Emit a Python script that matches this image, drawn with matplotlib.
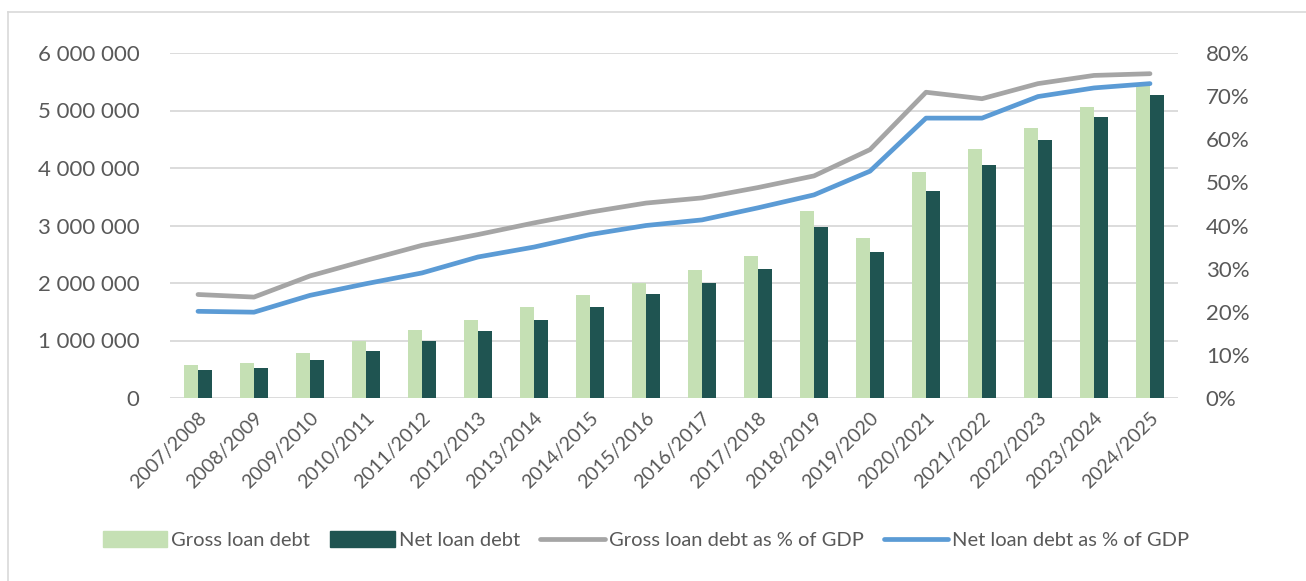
import matplotlib
matplotlib.use("Agg")
import matplotlib.pyplot as plt
from matplotlib.lines import Line2D
from matplotlib.ticker import FuncFormatter, MultipleLocator
import numpy as np

years = ["2007/2008", "2008/2009", "2009/2010", "2010/2011", "2011/2012", "2012/2013",
         "2013/2014", "2014/2015", "2015/2016", "2016/2017", "2017/2018", "2018/2019",
         "2019/2020", "2020/2021", "2021/2022", "2022/2023", "2023/2024", "2024/2025"]

gross_debt = [570000, 615000, 790000, 990000, 1190000, 1360000, 1590000, 1785000, 2005000,
              2232000, 2470000, 3246000, 2783000, 3936000, 4336000, 4690000, 5067000, 5450000]
net_debt = [481000, 528000, 655000, 812000, 991000, 1165000, 1362000, 1588000, 1809000,
            2006000, 2249000, 2980000, 2539000, 3600000, 4046000, 4493000, 4887000, 5264000]

gross_pct = [24.0, 23.4, 28.3, 31.9, 35.4, 37.9, 40.6, 43.1, 45.2,
             46.4, 48.8, 51.5, 57.6, 70.9, 69.4, 72.9, 74.8, 75.2]
net_pct = [20.1, 19.9, 23.8, 26.5, 29.0, 32.7, 35.0, 37.9, 40.0,
           41.3, 44.1, 47.1, 52.6, 64.9, 64.9, 69.9, 71.9, 72.9]

C_GROSS_BAR = "#C5E0B4"
C_NET_BAR = "#1F5451"
C_GROSS_LINE = "#A5A5A5"
C_NET_LINE = "#5B9BD5"
C_TEXT = "#595959"
C_GRID = "#D9D9D9"

plt.rcParams["font.family"] = ["Lato", "DejaVu Sans"]

W, H = 1306, 581
fig = plt.figure(figsize=(W / 100, H / 100), dpi=100)
ax = fig.add_axes([170 / W, 1 - 398 / H, 1008 / W, 345 / H])
ax2 = ax.twinx()

x = np.arange(len(years))
bw = 0.25
ax.bar(x - bw / 2, gross_debt, width=bw, color=C_GROSS_BAR, zorder=2)
ax.bar(x + bw / 2, net_debt, width=bw, color=C_NET_BAR, zorder=2)

ax2.plot(x, gross_pct, color=C_GROSS_LINE, lw=3.4, solid_capstyle="round", solid_joinstyle="round")
ax2.plot(x, net_pct, color=C_NET_LINE, lw=3.4, solid_capstyle="round", solid_joinstyle="round")

ax.set_xlim(-0.5, len(years) - 0.5)
ax.set_ylim(0, 6000000)
ax2.set_ylim(0, 80)
ax.yaxis.set_major_locator(MultipleLocator(1000000))
ax2.yaxis.set_major_locator(MultipleLocator(10))
ax.yaxis.set_major_formatter(FuncFormatter(lambda v, p: f"{int(v):,}".replace(",", " ")))
ax2.yaxis.set_major_formatter(FuncFormatter(lambda v, p: f"{int(v)}%"))

ax.grid(axis="y", color=C_GRID, lw=1.3, zorder=0)
ax.set_axisbelow(True)
for a in (ax, ax2):
    for s in a.spines.values():
        s.set_visible(False)
    a.tick_params(length=0, colors=C_TEXT, labelsize=16)
ax.tick_params(axis="y", pad=22)
ax2.tick_params(axis="y", pad=20)

ax.set_xticks(x)
ax.set_xticklabels(years, rotation=45, ha="right", rotation_mode="anchor", fontsize=14, color=C_TEXT)
ax.tick_params(axis="x", pad=8)

handles = [
    plt.Rectangle((0, 0), 1, 1, color=C_GROSS_BAR),
    plt.Rectangle((0, 0), 1, 1, color=C_NET_BAR),
    Line2D([], [], color=C_GROSS_LINE, lw=3.4, solid_capstyle="round"),
    Line2D([], [], color=C_NET_LINE, lw=3.4, solid_capstyle="round"),
]
labels = ["Gross loan debt", "Net loan debt", "Gross loan debt as % of GDP", "Net loan debt as % of GDP"]
leg = fig.legend(handles, labels, loc="center", bbox_to_anchor=(646 / W, 1 - 540 / H), ncol=4,
                 frameon=False, fontsize=14.5, handlelength=3.2, handleheight=0.8,
                 handletextpad=0.2, columnspacing=1.0, labelcolor=C_TEXT)

# Chart frame edges
fig.add_artist(Line2D([8 / W, 1], [1 - 12 / H, 1 - 12 / H], color="#D9D9D9", lw=1.2))
fig.add_artist(Line2D([8 / W, 8 / W], [0, 1 - 12 / H], color="#D9D9D9", lw=1.2))

fig.savefig("out.png", dpi=100)
